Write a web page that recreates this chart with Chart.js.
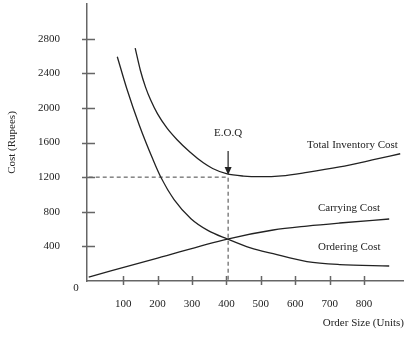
<!DOCTYPE html>
<html lang="en">
<head>
  <meta charset="UTF-8" />
  <title>EOQ Cost Curves</title>
  <script src="https://cdn.jsdelivr.net/npm/chart.js"></script>
  <style>
    html, body {
      margin: 0;
      padding: 0;
      background: #fff;
    }
    .wrap {
      width: 404px;
      height: 340px;
    }
  </style>
</head>
<body>
  <div class="wrap"><canvas id="eoqChart" width="404" height="340"></canvas></div>

  <script>
    // Tick values
    const xTicks = [100, 200, 300, 400, 500, 600, 700, 800];
    const yTicks = [400, 800, 1200, 1600, 2000, 2400, 2800];

    // Curves (order size -> cost)
    const orderingX = [83, 110, 147, 187, 210, 248, 297, 346, 403, 470, 536, 634, 729, 873];
    const orderingY = [2591, 2230, 1800, 1400, 1195, 940, 720, 585, 485, 382, 315, 225, 190, 173];

    const carryingX = [0, 200, 403, 536, 634, 729, 873];
    const carryingY = [45, 265, 485, 589, 635, 670, 716];

    const totalX = [135, 150, 165, 180, 200, 227, 256, 294, 333, 360, 400, 450, 500, 560, 634, 729, 824, 905];
    const totalY = [2690, 2435, 2240, 2090, 1930, 1768, 1635, 1490, 1365, 1300, 1240, 1212, 1205, 1215, 1255, 1318, 1398, 1470];

    // Economic order quantity marker
    const eoqX = 405;
    const eoqCost = 1200;

    const SERIF = "'Liberation Serif', 'DejaVu Serif', serif";
    const INK = '#222';
    const AXIS = '#666';

    function toPoints(xs, ys) {
      return xs.map((x, i) => ({ x: x, y: ys[i] }));
    }

    function curve(label, xs, ys) {
      return {
        label: label,
        data: toPoints(xs, ys),
        borderColor: INK,
        borderWidth: 1.3,
        pointRadius: 0,
        cubicInterpolationMode: 'monotone',
        fill: false
      };
    }

    // labels and the arrow, placed in data units
    const notes = [
      { text: 'Total Inventory Cost', x: 634, y: 1571, align: 'left' },
      { text: 'Carrying Cost', x: 666, y: 843, align: 'left' },
      { text: 'Ordering Cost', x: 666, y: 393, align: 'left' },
      { text: 'E.O.Q', x: eoqX, y: 1709, align: 'center' }
    ];

    const extras = {
      id: 'extras',
      afterDraw(chart) {
        const ctx = chart.ctx;
        const xs = chart.scales.x;
        const ys = chart.scales.y;
        const x0 = chart.chartArea.left;
        const y0 = chart.chartArea.bottom;

        ctx.save();
        // tick marks crossing the axes
        ctx.strokeStyle = AXIS;
        ctx.lineWidth = 1.5;
        ctx.beginPath();
        yTicks.forEach(v => {
          const py = Math.round(ys.getPixelForValue(v)) + 0.5;
          ctx.moveTo(x0 - 5, py);
          ctx.lineTo(x0 + 8, py);
        });
        xTicks.forEach(v => {
          const px = Math.round(xs.getPixelForValue(v)) + 0.5;
          ctx.moveTo(px, y0 - 5);
          ctx.lineTo(px, y0 + 4);
        });
        ctx.stroke();

        // origin label
        ctx.fillStyle = INK;
        ctx.font = '11px ' + SERIF;
        ctx.textAlign = 'center';
        ctx.textBaseline = 'middle';
        ctx.fillText('0', x0 - 11, y0 + 7);

        // curve labels
        notes.forEach(n => {
          ctx.textAlign = n.align;
          ctx.fillText(n.text, xs.getPixelForValue(n.x), ys.getPixelForValue(n.y));
        });

        // EOQ arrow
        const ax = xs.getPixelForValue(eoqX);
        const top = ys.getPixelForValue(1501);
        const tip = ys.getPixelForValue(1224);
        ctx.strokeStyle = INK;
        ctx.lineWidth = 1.2;
        ctx.beginPath();
        ctx.moveTo(ax, top);
        ctx.lineTo(ax, tip - 6);
        ctx.stroke();
        ctx.beginPath();
        ctx.moveTo(ax - 3.5, tip - 8);
        ctx.lineTo(ax + 3.5, tip - 8);
        ctx.lineTo(ax, tip);
        ctx.closePath();
        ctx.fill();
        ctx.restore();
      }
    };

    new Chart(document.getElementById('eoqChart'), {
      type: 'line',
      data: {
        datasets: [
          curve('Ordering Cost', orderingX, orderingY),
          curve('Carrying Cost', carryingX, carryingY),
          curve('Total Inventory Cost', totalX, totalY),
          {
            label: 'EOQ',
            data: [{ x: 0, y: eoqCost }, { x: eoqX, y: eoqCost }, { x: eoqX, y: 0 }],
            borderColor: '#444',
            borderWidth: 1,
            borderDash: [4, 3],
            pointRadius: 0,
            tension: 0,
            fill: false
          }
        ]
      },
      options: {
        responsive: false,
        animation: false,
        layout: { padding: { top: 4, right: 0, left: 0, bottom: 0 } },
        scales: {
          x: {
            type: 'linear',
            min: -5,
            max: 916,
            afterFit: s => {
              s.height = 59;
              s.paddingLeft = 0;
              s.paddingRight = 0;
            },
            afterBuildTicks: s => { s.ticks = xTicks.map(v => ({ value: v })); },
            grid: { display: false, drawTicks: false },
            border: { color: AXIS, width: 1.5 },
            ticks: {
              padding: 17,
              color: INK,
              font: { family: SERIF, size: 11 },
              callback: v => String(v)
            },
            title: {
              display: true,
              text: 'Order Size (Units)',
              align: 'end',
              color: INK,
              font: { family: SERIF, size: 11 },
              padding: { top: 0, bottom: 10 }
            }
          },
          y: {
            type: 'linear',
            min: 0,
            max: 3200,
            afterFit: s => {
              s.width = 87;
              s.paddingTop = 0;
              s.paddingBottom = 0;
            },
            afterBuildTicks: s => { s.ticks = yTicks.map(v => ({ value: v })); },
            grid: { display: false, drawTicks: false },
            border: { color: AXIS, width: 1.5 },
            ticks: {
              padding: 27,
              color: INK,
              font: { family: SERIF, size: 11 },
              callback: v => String(v)
            },
            title: {
              display: true,
              text: 'Cost (Rupees)',
              color: INK,
              font: { family: SERIF, size: 11 },
              padding: { top: 6, bottom: 0 }
            }
          }
        },
        plugins: {
          legend: { display: false },
          tooltip: { enabled: false }
        }
      },
      plugins: [extras]
    });
  </script>
</body>
</html>
